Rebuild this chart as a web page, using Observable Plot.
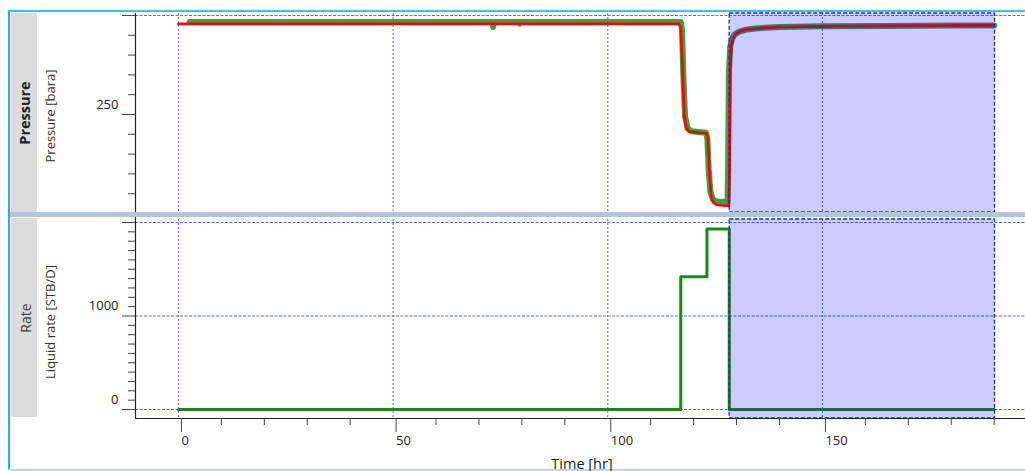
<!DOCTYPE html>
<html><head><meta charset="utf-8">
<script src="https://cdn.jsdelivr.net/npm/d3@7"></script>
<script src="https://cdn.jsdelivr.net/npm/@observablehq/plot@0.6"></script>
<style>
body{margin:0;background:#fff;font-family:"Open Sans",sans-serif;}
#wrap{position:relative;width:1025px;height:471px;overflow:hidden;background:#fff;}
.abs{position:absolute;}
.rot{position:absolute;transform:translate(-50%,-50%) rotate(-90deg);white-space:nowrap;color:#333;font-family:"Open Sans",sans-serif;}
</style></head><body><div id="wrap"></div>
<script>
// ---- data ----
const pressMeasTime  = [2.6, 73.0, 73.3, 73.6, 79.3, 79.5, 79.7, 117.0, 117.3, 117.6, 118.0, 118.6, 119.5, 122.9, 123.2, 123.5, 123.9, 124.5, 125.5, 127.9, 128.05, 128.2, 128.5, 128.9, 129.5, 130.5, 132, 135, 140, 150, 165, 180, 190];
const pressMeasValue = [343.3, 343.3, 338.5, 343.3, 343.3, 341.8, 343.3, 343.3, 336, 290, 248, 236, 233, 231.5, 225, 195, 172, 164, 162, 161.5, 200, 290, 318, 326, 330.5, 333.5, 335.5, 337, 338.3, 339, 339.5, 339.8, 340];
const pressModelTime  = [0, 116.6, 117.0, 117.4, 117.8, 118.3, 119.0, 122.9, 123.3, 123.7, 124.1, 124.6, 125.5, 128.2, 128.35, 128.5, 128.8, 129.2, 129.8, 131, 133, 136, 140, 150, 165, 180, 190];
const pressModelValue = [341.5, 341.5, 338, 300, 250, 236, 232.5, 231, 228, 190, 168, 161, 158.5, 157.5, 200, 300, 320, 327, 331.5, 334.5, 336, 337.3, 338.3, 339, 339.5, 339.8, 340];
const rateTime  = [0, 117.0, 123.1, 128.3, 190];
const rateValue = [0, 1420, 1930, 0, 0];
const shadeTime = [128.4, 190.2];

const timeDomain = [-10, 197.3];
const pressDomain = [151, 352];
const rateDomain = [-96, 2032];

const timeMajorTicks = [0, 50, 100, 150];
const timeMinorTicks = [10, 20, 30, 40, 60, 70, 80, 90, 110, 120, 130, 140, 160, 170, 180, 190];
const pressMajorTicks = [250, 350];
const pressMinorTicks = [170, 190, 210, 230, 270, 290, 310, 330];
const pressTickLabels = [250];
const pressGrid = [350];
const rateMajorTicks = [0, 1000, 2000];
const rateMinorTicks = [100, 200, 300, 400, 500, 600, 700, 800, 900, 1100, 1200, 1300, 1400, 1500, 1600, 1700, 1800, 1900];
const rateTickLabels = [0, 1000];
const rateGrid = [0, 1000, 2000];

// ---- tables ----
const measured = pressMeasTime.map((t, i) => ({t, p: pressMeasValue[i]}));
const model = pressModelTime.map((t, i) => ({t, p: pressModelValue[i]}));
const rate = rateTime.map((t, i) => ({t, q: rateValue[i]}));

const vGridColor = "#5a7cf0";
const hGridColor = "#4a6eec";
const shadeFill = "#0000ff";
const shadeStroke = "#2a2aa0";
const font = "Open Sans";

const wrap = document.getElementById("wrap");

function gridMarks(hGrid) {
  return [
    Plot.ruleX(timeMajorTicks, {stroke: vGridColor, strokeWidth: 1.1, strokeDasharray: "2,2"}),
    Plot.ruleY(hGrid, {stroke: hGridColor, strokeWidth: 1.1, strokeDasharray: "3,1.5"})
  ];
}
function yAxisMarks(major, minor, labels) {
  return [
    Plot.axisY(major, {anchor: "left", tickSize: 13, stroke: "#444", label: null, tickFormat: () => ""}),
    Plot.axisY(minor, {anchor: "left", tickSize: 7, stroke: "#444", label: null, tickFormat: () => ""}),
    Plot.axisY(labels, {anchor: "left", tickSize: 0, tickPadding: 17, fill: "#222", fontSize: 13, dy: -10, label: null,
      tickFormat: d => String(d)})
  ];
}

const topPlot = Plot.plot({
  width: 1025, height: 213,
  marginLeft: 135, marginRight: 0, marginTop: 13, marginBottom: 1,
  x: {domain: timeDomain, axis: null, label: null},
  y: {domain: pressDomain, label: null},
  style: {background: "transparent", fontFamily: font, fontSize: "13px", overflow: "visible"},
  marks: [
    ...gridMarks(pressGrid),
    Plot.line(measured, {x: "t", y: "p", stroke: "#22992e", strokeWidth: 6, strokeOpacity: 0.9}),
    Plot.line(model, {x: "t", y: "p", stroke: "#ff0000", strokeWidth: 2.6}),
    Plot.rect([shadeTime], {x1: d => d[0], x2: d => d[1], y1: pressDomain[0], y2: pressDomain[1], fill: shadeFill, fillOpacity: 0.2}),
    Plot.rect([shadeTime], {x1: d => d[0], x2: d => d[1], y1: pressDomain[0], y2: pressDomain[1], fill: "none", stroke: shadeStroke, strokeWidth: 1.3, strokeDasharray: "4,2"}),
    Plot.ruleX([timeDomain[0]], {stroke: "#222", strokeWidth: 1.2}),
    ...yAxisMarks(pressMajorTicks, pressMinorTicks, pressTickLabels)
  ]
});

const bottomPlot = Plot.plot({
  width: 1025, height: 254,
  marginLeft: 135, marginRight: 0, marginTop: 2, marginBottom: 53,
  x: {domain: timeDomain, label: null},
  y: {domain: rateDomain, label: null},
  style: {background: "transparent", fontFamily: font, fontSize: "13px", overflow: "visible"},
  marks: [
    ...gridMarks(rateGrid),
    Plot.line(rate, {x: "t", y: "q", curve: "step-after", stroke: "#188a18", strokeWidth: 3}),
    Plot.rect([shadeTime], {x1: d => d[0], x2: d => d[1], y1: rateDomain[0], y2: rateDomain[1], fill: shadeFill, fillOpacity: 0.2}),
    Plot.rect([shadeTime], {x1: d => d[0], x2: d => d[1], y1: rateDomain[0], y2: rateDomain[1], fill: "none", stroke: shadeStroke, strokeWidth: 1.3, strokeDasharray: "4,2"}),
    Plot.ruleX([timeDomain[0]], {stroke: "#222", strokeWidth: 1.2, insetTop: -3}),
    Plot.ruleY([rateDomain[0]], {stroke: "#222", strokeWidth: 1.2}),
    ...yAxisMarks(rateMajorTicks, rateMinorTicks, rateTickLabels),
    Plot.axisX(timeMajorTicks, {anchor: "bottom", tickSize: 14, tickPadding: 3, stroke: "#444", fill: "#222", fontSize: 13, textAnchor: "start", dx: 3, label: null,
      tickFormat: d => String(d)}),
    Plot.axisX(timeMinorTicks, {anchor: "bottom", tickSize: 7, stroke: "#444", label: null, tickFormat: () => ""})
  ]
});

function place(el, x, y) {
  el.style.position = "absolute"; el.style.left = x + "px"; el.style.top = y + "px";
  wrap.appendChild(el);
}
place(topPlot, 0, 0);
place(bottomPlot, 0, 217);

function box(x, y, w, h, color) {
  const d = document.createElement("div");
  d.className = "abs";
  Object.assign(d.style, {left: x + "px", top: y + "px", width: w + "px", height: h + "px", background: color});
  wrap.appendChild(d);
}
function rotText(txt, cx, cy, size, weight, color) {
  const d = document.createElement("div");
  d.className = "rot";
  d.textContent = txt;
  Object.assign(d.style, {left: cx + "px", top: cy + "px", fontSize: size + "px", fontWeight: weight, color});
  wrap.appendChild(d);
}
// panel decorations
box(11, 13, 26, 199, "#dcdcdc");
box(11, 218, 26, 199, "#dcdcdc");
box(10, 212, 1015, 5, "#b4c6dc");
// frame border
box(8, 10, 2, 461, "#1ab4f5");
box(8, 10, 1017, 2, "#3cbef2");
box(8, 469, 1017, 2, "#a8e2f2");
// titles
rotText("Pressure", 24, 113, 14.5, 700, "#222");
rotText("Pressure [bara]", 50, 116, 13, 400, "#333");
rotText("Rate", 25, 318, 14, 400, "#444");
rotText("Liquid rate [STB/D]", 50, 322, 13, 400, "#333");
const xl = document.createElement("div");
xl.textContent = "Time [hr]";
Object.assign(xl.style, {position: "absolute", left: "582px", top: "463px", transform: "translate(-50%,-50%)", fontSize: "14.5px", color: "#222", whiteSpace: "nowrap"});
wrap.appendChild(xl);
</script>
</body></html>
